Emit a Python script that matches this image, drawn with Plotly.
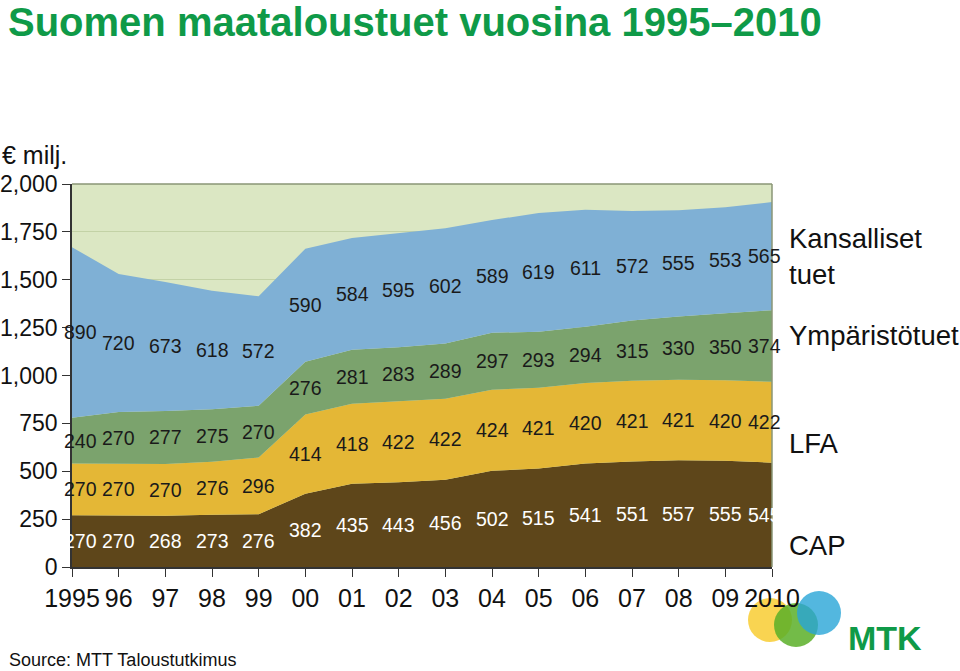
import plotly.graph_objects as go

years = [1995, 1996, 1997, 1998, 1999, 2000, 2001, 2002, 2003, 2004, 2005, 2006, 2007, 2008, 2009, 2010]
x_tick_labels = ["1995", "96", "97", "98", "99", "00", "01", "02", "03", "04", "05", "06", "07", "08", "09", "2010"]
cap = [270, 270, 268, 273, 276, 382, 435, 443, 456, 502, 515, 541, 551, 557, 555, 545]
lfa = [270, 270, 270, 276, 296, 414, 418, 422, 422, 424, 421, 420, 421, 421, 420, 422]
ymparisto = [240, 270, 277, 275, 270, 276, 281, 283, 289, 297, 293, 294, 315, 330, 350, 374]
kansalliset = [890, 720, 673, 618, 572, 590, 584, 595, 602, 589, 619, 611, 572, 555, 553, 565]
y_ticks = [0, 250, 500, 750, 1000, 1250, 1500, 1750, 2000]
y_tick_labels = ["0", "250", "500", "750", "1,000", "1,250", "1,500", "1,750", "2,000"]

series = [
    ("CAP", cap, "#5e461a", "white"),
    ("LFA", lfa, "#e4b736", "#1a1a1a"),
    ("Ympäristötuet", ymparisto, "#7ba36d", "#1a1a1a"),
    ("Kansalliset tuet", kansalliset, "#7fb0d5", "#1a1a1a"),
]
legend_labels = [("CAP", 545), ("LFA", 443), ("Ympäristötuet", 335), ("Kansalliset<br>tuet", 256)]

FONT = "Liberation Sans, Arial, sans-serif"

PX_L, PX_T, PW, PH = 72, 184, 700, 383
W, H = 960, 671

fig = go.Figure()
base = [0] * len(years)
annotations = []
for name, vals, color, tcol in series:
    fig.add_trace(go.Scatter(
        x=years, y=vals, name=name, stackgroup="one", mode="lines",
        line=dict(width=0, color=color), fillcolor=color, hoverinfo="x+y+name",
    ))
    for i, (yr, v) in enumerate(zip(years, vals)):
        mid = base[i] + v / 2
        xs = 0
        if i == 0:
            xs = 8
        elif i == len(years) - 1:
            xs = -8
        annotations.append(dict(
            x=yr, y=mid, xref="x", yref="y", text=str(v), showarrow=False,
            xshift=xs, font=dict(family=FONT, size=19.5, color=tcol),
        ))
    base = [b + v for b, v in zip(base, vals)]


def px2paper(px, py):
    return (px - PX_L) / PW, (PX_T + PH - py) / PH


# right-hand series labels
for text, ypx in legend_labels:
    xp, yp = px2paper(787, ypx)
    annotations.append(dict(
        x=xp, y=yp, xref="paper", yref="paper", text=text,
        showarrow=False, xanchor="left", yanchor="middle", align="left",
        font=dict(family=FONT, size=27.5, color="#111"),
    ))

xp, yp = px2paper(0, 155)
annotations.append(dict(
    x=xp, y=yp, xref="paper", yref="paper", text="€ milj.",
    showarrow=False, xanchor="left", yanchor="middle",
    font=dict(family=FONT, size=25, color="#111"),
))
xp, yp = px2paper(7, 660)
annotations.append(dict(
    x=xp, y=yp, xref="paper", yref="paper",
    text="Source: MTT Taloustutkimus", showarrow=False, xanchor="left", yanchor="middle",
    font=dict(family=FONT, size=18, color="#111"),
))
xp, yp = px2paper(846, 638)
annotations.append(dict(
    x=xp, y=yp, xref="paper", yref="paper",
    text="<b>MTK</b>", showarrow=False, xanchor="left", yanchor="middle",
    font=dict(family=FONT, size=34, color="#0f9a48"),
))

shapes = []
# top and right frame lines
shapes.append(dict(type="line", xref="paper", yref="paper", x0=0, x1=1, y0=1, y1=1,
                   line=dict(color="#8a9676", width=1.5)))
shapes.append(dict(type="line", xref="paper", yref="paper", x0=1, x1=1, y0=0, y1=1,
                   line=dict(color="#8a9676", width=1.5)))
# MTK logo circles
for cx, cy, r, col in [(770, 620, 22, "rgba(248,205,50,0.85)"),
                       (796, 625, 22, "rgba(90,175,40,0.85)"),
                       (819, 613, 22, "rgba(40,165,215,0.8)")]:
    x0, y0 = px2paper(cx - r, cy + r)
    x1, y1 = px2paper(cx + r, cy - r)
    shapes.append(dict(type="circle", xref="paper", yref="paper", x0=x0, y0=y0, x1=x1, y1=y1,
                       fillcolor=col, line=dict(width=0), layer="below"))

fig.update_layout(
    width=W, height=H,
    margin=dict(l=PX_L, r=W - PX_L - PW, t=PX_T, b=H - PX_T - PH),
    paper_bgcolor="white", plot_bgcolor="#dbe7c3",
    showlegend=False,
    title=dict(text="<b>Suomen maataloustuet vuosina 1995–2010</b>", x=8 / W, xanchor="left",
               y=1 - 8 / H, yanchor="top", pad=dict(l=0, t=0),
               font=dict(family=FONT, size=40, color="#0f9a48")),
    xaxis=dict(range=[1995, 2010], tickvals=years, ticktext=x_tick_labels, showgrid=False,
               showline=True, linecolor="#333", linewidth=1.5, ticks="outside", ticklen=8,
               tickcolor="#333", zeroline=False, tickangle=0, automargin=False,
               tickfont=dict(family=FONT, size=25, color="#111")),
    yaxis=dict(range=[0, 2000], tickvals=y_ticks, ticktext=y_tick_labels, showgrid=True,
               gridcolor="#c3d2a6", gridwidth=1, showline=True, linecolor="#333", linewidth=1.5,
               ticks="outside", ticklen=8, tickcolor="#333", zeroline=False, automargin=False,
               tickfont=dict(family=FONT, size=23, color="#111")),
    annotations=annotations, shapes=shapes,
)

fig.write_html("out.html", config={"displayModeBar": False},
               post_script="document.body.style.margin='0';document.body.style.padding='0';")
